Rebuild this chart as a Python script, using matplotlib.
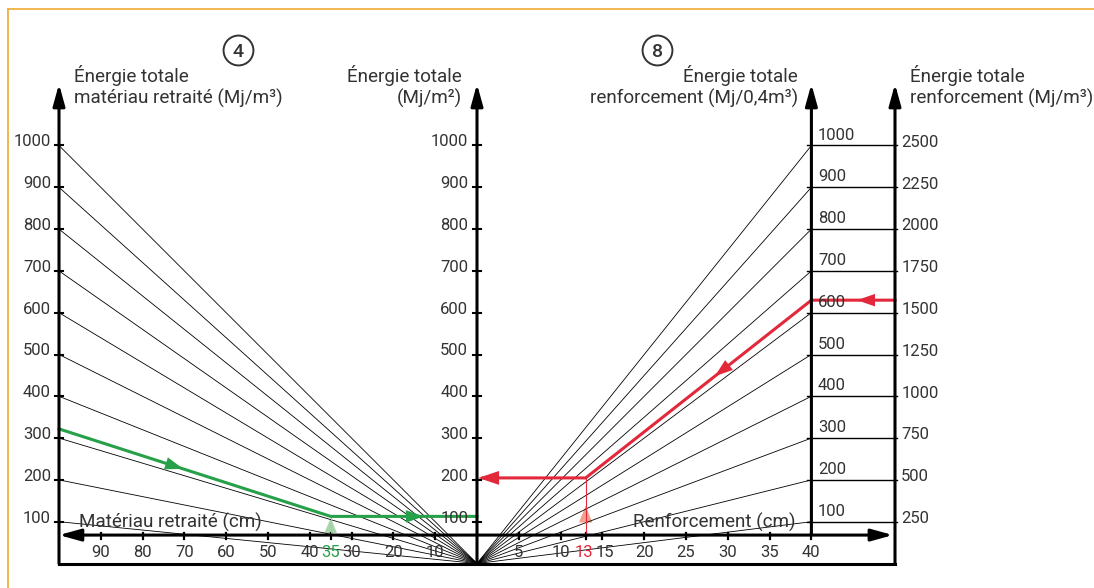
import matplotlib.pyplot as plt
import numpy as np

# values
left_energy = [100, 200, 300, 400, 500, 600, 700, 800, 900, 1000]   # Mj/m3 material
middle_energy = [100, 200, 300, 400, 500, 600, 700, 800, 900, 1000]  # Mj/m2
right_energy = [100, 200, 300, 400, 500, 600, 700, 800, 900, 1000]   # Mj/0,4m3
right_energy_m3 = [250, 500, 750, 1000, 1250, 1500, 1750, 2000, 2250, 2500]
left_cm = [90, 80, 70, 60, 50, 40, 35, 30, 20, 10]
right_cm = [5, 10, 13, 15, 20, 25, 30, 35, 40]
green_energy = 322      # Mj/m3 on the left axis
green_cm = 35
red_energy = 630        # Mj/0,4m3 on the right axis
red_cm = 13

TXT = '#333333'
GREEN = '#27a04a'
RED = '#e2283a'
FS = 12      # numbers
FS_T = 13.6  # words
plt.rcParams['font.family'] = ['Roboto', 'DejaVu Sans']

# horizontal position: left side 1 unit = 1 cm, right side 1 unit = 0.5 cm
def lx(cm):
    return -cm

def rx(cm):
    return 2 * cm

LEFT_AX = lx(100)
RIGHT_AX = rx(40)
OUTER_AX = 100
XAXIS_Y = 68
TOP = 1147

fig = plt.figure(figsize=(10.94, 5.88), dpi=100)
ax = fig.add_axes([0, 0, 1, 1])
ax.set_xlim(-477 / 4.18, 617 / 4.18)
ax.set_ylim(-24.5 / 0.418, 563.5 / 0.418)
ax.axis('off')

# orange frame (top and left)
ax.plot([-112.2, 150], [1325.4, 1325.4], color='#f0b040', lw=1.3, clip_on=False)
ax.plot([-112.2, -112.2], [1325.4, -70], color='#f0b040', lw=1.3, clip_on=False)

# fan lines
for e in left_energy:
    ax.plot([LEFT_AX, 0], [e, 0], color='black', lw=0.6)
for e in right_energy:
    ax.plot([0, RIGHT_AX], [0, e], color='black', lw=0.6)
    ax.plot([78.9, 100.5], [e, e], color='black', lw=1.0)

# frame and vertical axes
arrow_v = dict(arrowstyle='-|>,head_length=13,head_width=3.6', mutation_scale=1,
               lw=2.2, color='black', shrinkA=0, shrinkB=0)
for x0, y0 in [(LEFT_AX, 0), (0, 0), (RIGHT_AX, XAXIS_Y), (OUTER_AX, 0)]:
    ax.annotate('', xy=(x0, TOP), xytext=(x0, y0), arrowprops=arrow_v)
ax.plot([LEFT_AX, OUTER_AX], [0, 0], color='black', lw=2.2, solid_capstyle='projecting')

# horizontal axis, double headed
ax.annotate('', xy=(LEFT_AX, XAXIS_Y), xytext=(OUTER_AX - 0.5, XAXIS_Y),
            arrowprops=dict(arrowstyle='<|-|>,head_length=13,head_width=3.6', mutation_scale=1,
                            lw=2.2, color='black', shrinkA=0, shrinkB=0))

# vertical axis ticks and labels
for e in left_energy:
    ax.plot([LEFT_AX - 1, LEFT_AX + 1], [e, e], color='black', lw=1.5)
    ax.text(lx(101.9), e - 2, str(e), ha='right', va='baseline', fontsize=FS, color=TXT)
for e in middle_energy:
    ax.plot([-1, 1], [e, e], color='black', lw=1.5)
    ax.text(-2.1, e - 2, str(e), ha='right', va='baseline', fontsize=FS, color=TXT)
for e in right_energy:
    ax.text(rx(40.8), e + 14, str(e), ha='left', va='baseline', fontsize=FS, color=TXT)
for e, e2 in zip(right_energy, right_energy_m3):
    ax.text(101.5, e - 3, str(e2), ha='left', va='baseline', fontsize=FS, color=TXT)

# horizontal axis ticks and labels (13 and 15 sit very close, spread them a hair)
nudge = {13: -0.5, 15: 0.6}
for c in left_cm:
    ax.plot([lx(c), lx(c)], [58, 74], color='black', lw=1.6)
    col = GREEN if c == green_cm else TXT
    ax.text(lx(c), 15, str(c), ha='center', va='baseline', fontsize=FS, color=col)
for c in right_cm:
    ax.plot([rx(c), rx(c)], [58, 74], color='black', lw=1.6)
    col = RED if c == red_cm else TXT
    ax.text(rx(c) + nudge.get(c, 0), 15, str(c), ha='center', va='baseline',
            fontsize=FS, color=col)

ax.text(lx(95.2), 85, 'Matériau retraité (cm)', ha='left', va='baseline',
        fontsize=FS_T, color=TXT)
ax.text(rx(38.1), 85, 'Renforcement (cm)', ha='right', va='baseline',
        fontsize=FS_T, color=TXT)

# axis titles
title_kw = dict(fontsize=FS_T, color=TXT, va='baseline', linespacing=1.22)
ax.text(lx(96.4), 1099, 'Énergie totale\nmatériau retraité (Mj/m³)', ha='left', **title_kw)
ax.text(-3.6, 1099, 'Énergie totale\n(Mj/m²)', ha='right', multialignment='right', **title_kw)
ax.text(76.8, 1099, 'Énergie totale\nrenforcement (Mj/0,4m³)', ha='right',
        multialignment='right', **title_kw)
ax.text(103.6, 1099, 'Énergie totale\nrenforcement (Mj/m³)', ha='left', **title_kw)

# circled panel numbers
for x0, label in [(-57.2, '4'), (43.1, '8')]:
    ax.plot(x0, 1229, 'o', ms=21.5, mfc='white', mec=TXT, mew=1.4)
    ax.text(x0, 1229, label, ha='center', va='center_baseline', fontsize=14,
            color=TXT, fontweight='medium')

# green example: material
g_mid = green_energy * green_cm / 100
ax.plot([lx(green_cm), lx(green_cm)], [XAXIS_Y, g_mid], color='#9fd0a3', lw=0.8)
ax.fill([lx(green_cm) - 1.5, lx(green_cm) + 1.5, lx(green_cm)], [73, 73, 109],
        color='#a8d6ab', lw=0)
ax.plot([LEFT_AX, lx(green_cm), 0], [green_energy, g_mid, g_mid], color=GREEN, lw=2.2,
        solid_joinstyle='miter')
head = dict(arrowstyle='-|>,head_length=13,head_width=4.5', mutation_scale=1, lw=0,
            shrinkA=0, shrinkB=0)
gx = -70.3
gy = green_energy + (g_mid - green_energy) * (gx - LEFT_AX) / (lx(green_cm) - LEFT_AX)
gx0 = gx - 5
gy0 = green_energy + (g_mid - green_energy) * (gx0 - LEFT_AX) / (lx(green_cm) - LEFT_AX)
ax.annotate('', xy=(gx, gy), xytext=(gx0, gy0), arrowprops=dict(head, color=GREEN))
ax.annotate('', xy=(-12.7, g_mid), xytext=(-16, g_mid), arrowprops=dict(head, color=GREEN))

# red example: reinforcement
r_mid = red_energy * red_cm / 40
ax.plot([rx(red_cm), rx(red_cm)], [XAXIS_Y, r_mid], color=RED, lw=0.8)
ax.fill([rx(red_cm) - 1.6, rx(red_cm) + 1.6, rx(red_cm)], [98, 98, 138],
        color='#f2a08e', lw=0)
ax.plot([OUTER_AX, RIGHT_AX, rx(red_cm), 1.5], [red_energy, red_energy, r_mid, r_mid],
        color=RED, lw=2.2, solid_joinstyle='miter')
ax.annotate('', xy=(90.9, red_energy), xytext=(94, red_energy), arrowprops=dict(head, color=RED))
rx1 = 56.9
ry1 = r_mid + (red_energy - r_mid) * (rx1 - rx(red_cm)) / (RIGHT_AX - rx(red_cm))
rx2 = rx1 + 4
ry2 = r_mid + (red_energy - r_mid) * (rx2 - rx(red_cm)) / (RIGHT_AX - rx(red_cm))
ax.annotate('', xy=(rx1, ry1), xytext=(rx2, ry2), arrowprops=dict(head, color=RED))
ax.annotate('', xy=(0.3, r_mid), xytext=(4, r_mid),
            arrowprops=dict(head, color=RED, arrowstyle='-|>,head_length=15,head_width=5'))

fig.savefig('out.png', dpi=100, facecolor='white')
